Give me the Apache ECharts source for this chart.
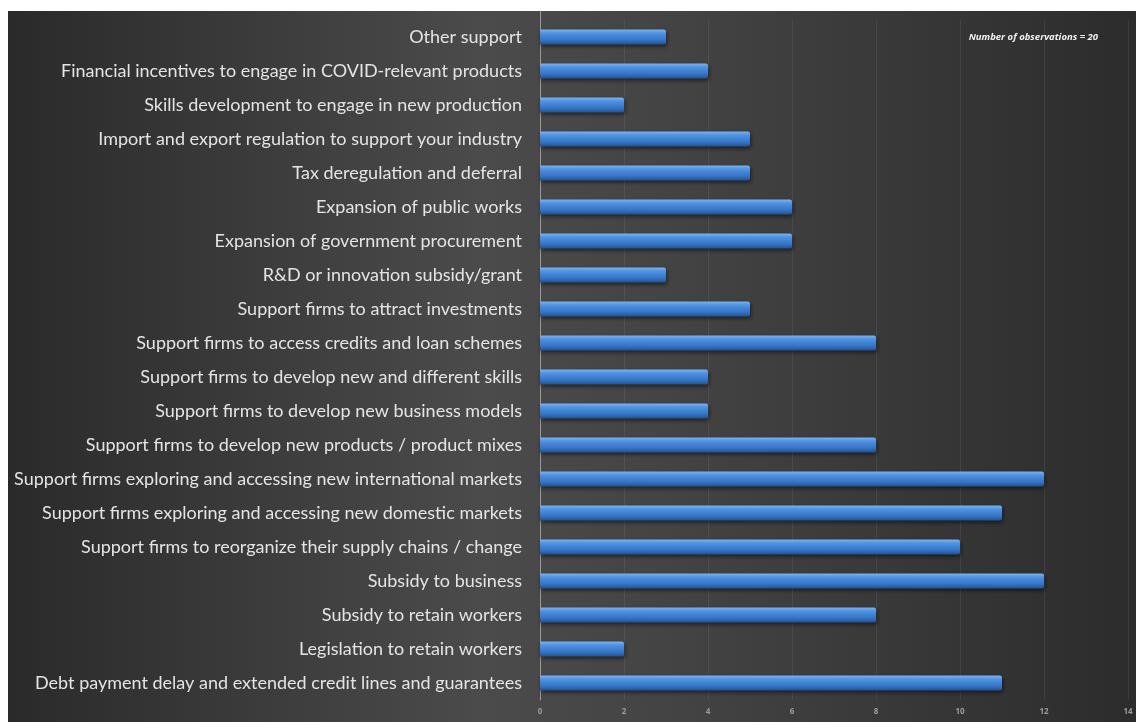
<!DOCTYPE html>
<html>
<head>
<meta charset="utf-8">
<script src="https://cdn.jsdelivr.net/npm/echarts@6/dist/echarts.min.js"></script>
<style>
html,body{margin:0;padding:0;background:#fff;}
#chart{width:1136px;height:722px;}
</style>
</head>
<body>
<div id="chart"></div>
<script>
// Categories listed top to bottom
var categories = [
  "Other support",
  "Financial incentives to engage in COVID-relevant products",
  "Skills development to engage in new production",
  "Import and export regulation to support your industry",
  "Tax deregulation and deferral",
  "Expansion of public works",
  "Expansion of government procurement",
  "R&D or innovation subsidy/grant",
  "Support firms to attract investments",
  "Support firms to access credits and loan schemes",
  "Support firms to develop new and different skills",
  "Support firms to develop new business models",
  "Support firms to develop new products / product mixes",
  "Support firms exploring and accessing new international markets",
  "Support firms exploring and accessing new domestic markets",
  "Support firms to reorganize their supply chains / change",
  "Subsidy to business",
  "Subsidy to retain workers",
  "Legislation to retain workers",
  "Debt payment delay and extended credit lines and guarantees"
];
var values = [3, 4, 2, 5, 5, 6, 6, 3, 5, 8, 4, 4, 8, 12, 11, 10, 12, 8, 2, 11];
var annotation = "Number of observations = 20";

var chart = echarts.init(document.getElementById('chart'), null, {renderer: 'canvas'});
var option = {
  backgroundColor: '#ffffff',
  animation: false,
  graphic: [
    {
      type: 'rect', z: -10, silent: true,
      shape: {x: 8, y: 11, width: 1128, height: 711},
      style: {
        fill: new echarts.graphic.LinearGradient(0, 0, 1, 0, [
          {offset: 0, color: '#2a2a2a'},
          {offset: 0.42, color: '#4b4b4b'},
          {offset: 0.6, color: '#434343'},
          {offset: 1, color: '#2c2c2c'}
        ])
      }
    },
    {
      type: 'line', z: 5, silent: true,
      shape: {x1: 540.5, y1: 11, x2: 540.5, y2: 20},
      style: {stroke: '#9a9a9a', lineWidth: 1}
    },
    {
      type: 'text', z: 10, right: 38, top: 32,
      style: {
        text: annotation,
        fill: '#f2f2f2',
        font: 'italic bold 9.5px "Open Sans", sans-serif'
      }
    }
  ],
  grid: {left: 540, right: 8, top: 20, bottom: 22, containLabel: false},
  xAxis: {
    type: 'value', min: 0, max: 14, interval: 2,
    axisLine: {show: false},
    axisTick: {show: false},
    splitLine: {show: true, lineStyle: {color: 'rgba(255,255,255,0.07)', width: 1}},
    axisLabel: {color: '#9c9c9c', fontSize: 8, fontWeight: 'bold', fontFamily: 'Open Sans', margin: 8}
  },
  yAxis: {
    type: 'category', data: categories, inverse: true,
    axisLine: {show: true, lineStyle: {color: '#9a9a9a', width: 1}},
    axisTick: {show: false},
    axisLabel: {color: '#e4e4e4', fontSize: 18, fontFamily: 'Lato', margin: 18}
  },
  series: [{
    type: 'bar', data: values, barWidth: 15,
    itemStyle: {
      color: new echarts.graphic.LinearGradient(0, 0, 0, 1, [
        {offset: 0, color: '#79b4f4'},
        {offset: 0.25, color: '#4f92e2'},
        {offset: 0.7, color: '#3674c6'},
        {offset: 1, color: '#24528f'}
      ]),
      borderRadius: [0, 2, 2, 0],
      shadowColor: 'rgba(0,0,0,0.55)',
      shadowBlur: 4,
      shadowOffsetY: 2,
      shadowOffsetX: 1
    }
  }]
};
chart.setOption(option);
</script>
</body>
</html>
